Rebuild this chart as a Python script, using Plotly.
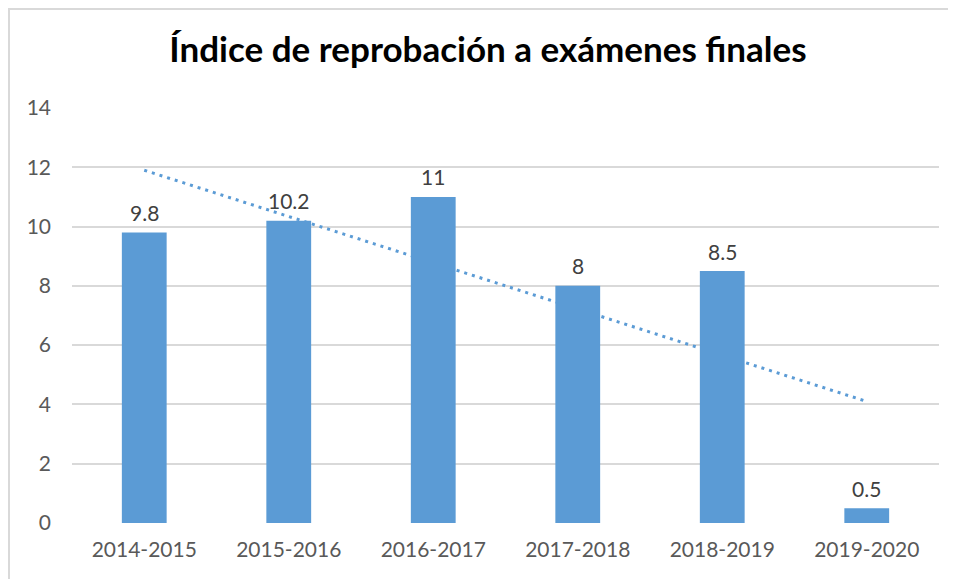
import numpy as np
import plotly.graph_objects as go

categories = ["2014-2015", "2015-2016", "2016-2017", "2017-2018", "2018-2019", "2019-2020"]
values = [9.8, 10.2, 11, 8, 8.5, 0.5]
title_text = "Índice de reprobación a exámenes finales"
y_ticks = [0, 2, 4, 6, 8, 10, 12, 14]

# linear trendline (as in the original spreadsheet chart)
idx = np.arange(1, len(values) + 1)
slope, intercept = np.polyfit(idx, values, 1)
trend = list(slope * idx + intercept)

BAR = "#5B9BD5"
FONT = "Lato"
OFF = 8  # page body margin

W, H = 956 - OFF, 579 - OFF
L, T = 72 - OFF, 108 - OFF
R = W - (939 - OFF)
B = H - (523 - OFF)
PW = W - L - R
PH = H - T - B

fig = go.Figure()
# trend on the base axes (drawn underneath)
fig.add_trace(go.Scatter(
    x=categories, y=trend, mode="lines",
    line=dict(color=BAR, width=3, dash="3px,5px"),
    xaxis="x", yaxis="y", hoverinfo="skip", showlegend=False,
))
# bars on overlaying axes (drawn on top)
fig.add_trace(go.Bar(
    x=categories, y=values, marker=dict(color=BAR, line=dict(width=0)),
    cliponaxis=False, xaxis="x2", yaxis="y2", showlegend=False,
))

annotations = [dict(x=c, y=v, xref="x2", yref="y2", text=f"{v:g}", showarrow=False,
                    yshift=20, yanchor="middle",
                    font=dict(family=FONT, size=21, color="#404040"))
               for c, v in zip(categories, values)]

axis_common = dict(showline=False, zeroline=False)
fig.update_layout(
    width=W, height=H,
    margin=dict(l=L, r=R, t=T, b=B),
    paper_bgcolor="white", plot_bgcolor="white",
    bargap=0.69,
    title=dict(text=f"<b>{title_text}</b>", x=(488 - OFF) / W, xanchor="center",
               y=1 - (50 - OFF) / H, yanchor="middle",
               font=dict(family=FONT, size=35, color="#000000")),
    xaxis=dict(type="category", categoryorder="array", categoryarray=categories,
               showgrid=False, showticklabels=True, ticks="", ticklabelstandoff=12,
               tickfont=dict(family=FONT, size=21, color="#595959"), **axis_common),
    yaxis=dict(range=[0, 14], tickvals=y_ticks, showgrid=True, gridcolor="#D9D9D9",
               gridwidth=1.5, ticks="", ticklabelstandoff=20,
               tickfont=dict(family=FONT, size=21, color="#595959"), **axis_common),
    xaxis2=dict(type="category", categoryorder="array", categoryarray=categories,
                overlaying="x", matches="x", showgrid=False, showticklabels=False, **axis_common),
    yaxis2=dict(range=[0, 14], overlaying="y", showgrid=False, showticklabels=False, **axis_common),
    annotations=annotations,
    shapes=[dict(type="rect", xref="paper", yref="paper",
                 x0=(9 - 72) / PW, x1=1.2, y0=-0.5, y1=(523 - 9) / PH,
                 line=dict(color="#D9D9D9", width=2), fillcolor="rgba(0,0,0,0)", layer="below")],
)

fig.write_html("out.html")
